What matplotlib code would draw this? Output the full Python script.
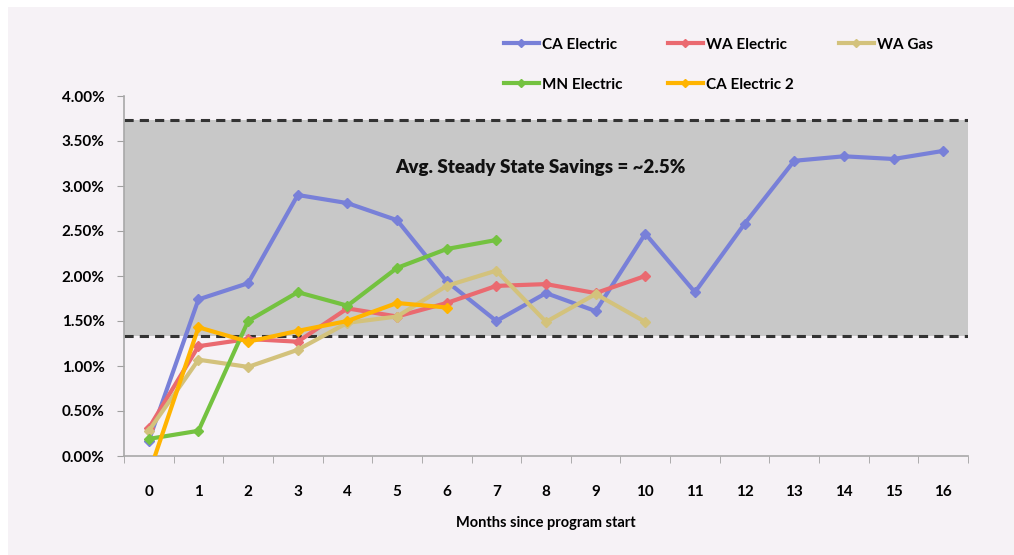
import matplotlib.pyplot as plt
from matplotlib.patches import Rectangle
from matplotlib.ticker import FuncFormatter, MultipleLocator

plt.rcParams['font.family'] = ['Lato', 'DejaVu Sans']
plt.rcParams['font.weight'] = 'bold'

months = list(range(17))
ca_electric = [0.17, 1.74, 1.92, 2.90, 2.81, 2.62, 1.94, 1.50, 1.81, 1.61, 2.47, 1.82, 2.58, 3.28, 3.33, 3.30, 3.39]
wa_electric = [0.31, 1.22, 1.30, 1.27, 1.64, 1.55, 1.70, 1.89, 1.91, 1.81, 2.00]
wa_gas = [0.28, 1.07, 0.99, 1.18, 1.48, 1.55, 1.89, 2.06, 1.49, 1.80, 1.49]
mn_electric = [0.19, 0.28, 1.50, 1.82, 1.67, 2.09, 2.30, 2.40]
ca_electric2 = [-0.2, 1.43, 1.27, 1.39, 1.50, 1.70, 1.65]

band_low = 1.33
band_high = 3.73
note = 'Avg. Steady State Savings = ~2.5%'

bg = '#f6f2f6'
fig = plt.figure(figsize=(10.14, 5.55), dpi=100, facecolor='white')
fig.patches.append(Rectangle((8 / 1014, 0), 1, 1 - 7 / 555, transform=fig.transFigure,
                             facecolor=bg, edgecolor='none', zorder=-10))
ax = fig.add_axes([124 / 1014, 1 - 456 / 555, (968 - 124) / 1014, (456 - 96) / 555])
ax.set_facecolor('none')

ax.axhspan(band_low, band_high, color='#c8c8c8', zorder=0, lw=0)
for yv in (band_low, band_high):
    ax.axhline(yv, color='#333333', lw=2.2, ls=(0, (3, 2)), zorder=1)

series = [
    ('CA Electric', months, ca_electric, '#7880d8'),
    ('WA Electric', months[:len(wa_electric)], wa_electric, '#ea6a70'),
    ('WA Gas', months[:len(wa_gas)], wa_gas, '#d3c27c'),
    ('MN Electric', months[:len(mn_electric)], mn_electric, '#74c240'),
    ('CA Electric 2', months[:len(ca_electric2)], ca_electric2, '#ffb400'),
]
handles = {}
for name, xs, ys, c in series:
    h, = ax.plot(xs, ys, color=c, lw=3, marker='D', ms=5.5, label=name, zorder=3)
    handles[name] = h

ax.text(7.88, 3.21, note, ha='center', va='center', fontsize=13.5, fontweight='heavy', color='#111111')

ax.set_xlim(-0.5, 16.5)
ax.set_ylim(0, 4)
ax.set_xticks(months)
ax.xaxis.set_minor_locator(MultipleLocator(1, offset=0.5))
ax.tick_params(axis='x', which='major', length=0, pad=21, labelsize=11)
ax.tick_params(axis='x', which='minor', length=5, color='#a0a0a0', direction='out')
ax.yaxis.set_major_locator(MultipleLocator(0.5))
ax.yaxis.set_major_formatter(FuncFormatter(lambda v, p: f'{v:.2f}%'))
ax.tick_params(axis='y', length=5, color='#a0a0a0', pad=9, labelsize=11)
for s in ('top', 'right'):
    ax.spines[s].set_visible(False)
for s in ('left', 'bottom'):
    ax.spines[s].set_color('#a8a8a8')
    ax.spines[s].set_linewidth(1.2)
ax.set_xlabel('Months since program start', fontsize=10.5, fontweight='bold', labelpad=12)

order = ['CA Electric', 'MN Electric', 'WA Electric', 'CA Electric 2', 'WA Gas']
fig.legend([handles[n] for n in order], order, ncol=3, loc='upper left',
           bbox_to_anchor=(490 / 1014, 1 - 24 / 555), frameon=False, fontsize=11,
           handlelength=2.3, handletextpad=0.2, columnspacing=2.95, labelspacing=1.7,
           markerscale=0.7)

fig.savefig('out.png', dpi=100, facecolor=fig.get_facecolor())
